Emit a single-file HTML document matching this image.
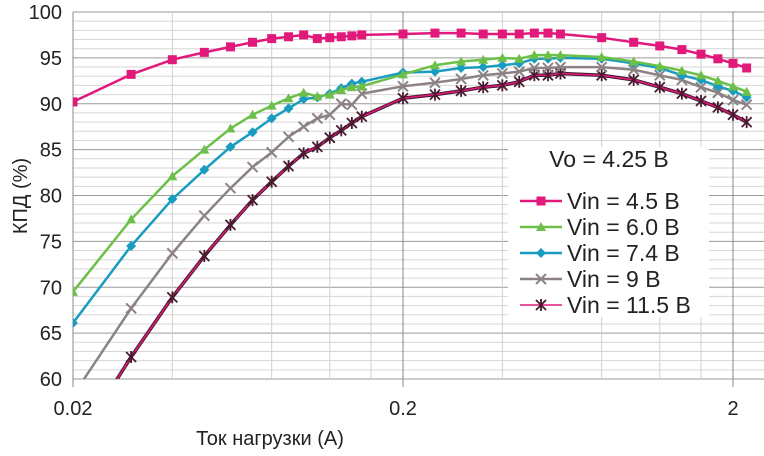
<!DOCTYPE html>
<html><head><meta charset="utf-8"><style>
body{margin:0;background:#fff;}
svg text{font-family:"Liberation Sans",sans-serif;fill:#222;}
</style></head><body>
<svg id="chart" width="764" height="451" xmlns="http://www.w3.org/2000/svg">
<defs><clipPath id="plotclip"><rect x="73" y="12" width="691" height="367"/></clipPath></defs>
<g id="grid"></g>
<g id="series" clip-path="url(#plotclip)"></g>
<g id="axes"></g>
<g id="legend"></g>
</svg>
<script>
const xValues=[0.02,0.03,0.04,0.05,0.06,0.07,0.08,0.09,0.1,0.11,0.12,0.13,0.14,0.15,0.2,0.25,0.3,0.35,0.4,0.45,0.5,0.55,0.6,0.8,1.0,1.2,1.4,1.6,1.8,2.0,2.2];
const vin45=[90.2,93.2,94.8,95.6,96.2,96.7,97.1,97.3,97.5,97.1,97.2,97.3,97.4,97.5,97.6,97.7,97.7,97.6,97.6,97.6,97.7,97.7,97.6,97.2,96.7,96.3,95.9,95.4,94.9,94.4,93.9];
const vin60=[69.5,77.4,82.1,85.0,87.3,88.8,89.8,90.6,91.2,90.8,91.0,91.5,91.8,91.9,93.2,94.2,94.6,94.8,95.0,94.9,95.3,95.3,95.3,95.1,94.6,94.1,93.6,93.1,92.5,91.9,91.3];
const vin74=[66.1,74.5,79.6,82.8,85.3,86.9,88.4,89.5,90.5,90.7,91.1,91.7,92.2,92.4,93.4,93.5,93.9,94.0,94.2,94.4,94.9,94.9,95.0,94.9,94.4,93.9,93.1,92.6,91.9,91.4,90.7];
const vin9=[58.2,67.7,73.7,77.8,80.8,83.1,84.7,86.4,87.5,88.4,88.8,90.0,89.9,91.1,91.9,92.3,92.7,93.1,93.3,93.5,93.9,93.9,94.0,94.0,93.7,93.1,92.6,91.8,91.2,90.4,89.9];
const vin115=[52.4,62.4,68.9,73.4,76.8,79.5,81.5,83.2,84.6,85.3,86.3,87.1,87.9,88.6,90.6,91.0,91.4,91.8,92.0,92.4,93.1,93.1,93.3,93.1,92.6,91.8,91.1,90.3,89.6,88.8,88.0];
const yTicks=[60,65,70,75,80,85,90,95,100];
const xTicks=[0.02,0.2,2];
const xTickLabels=["0.02","0.2","2"];
const legendLabels=["Vin = 4.5 B","Vin = 6.0 B","Vin = 7.4 B","Vin = 9 B","Vin = 11.5 B"];

const NS="http://www.w3.org/2000/svg";
const X0=73,X1=764,Y0=12,Y1=379,DEC=330;
function xs(v){return X0+Math.log10(v/0.02)*DEC;}
function ys(v){return Y1-(v-60)/40*(Y1-Y0);}
function mk(tag,attrs,parent){const e=document.createElementNS(NS,tag);for(const k in attrs)e.setAttribute(k,attrs[k]);parent.appendChild(e);return e;}
const grid=document.getElementById('grid'),axes=document.getElementById('axes'),ser=document.getElementById('series'),leg=document.getElementById('legend');
for(let v=60;v<=100;v++){
 const l=mk('line',{x1:X0,x2:X1,y1:ys(v),y2:ys(v),stroke:v%5?'#d6d6d6':'#9a9a9a','stroke-width':1},grid);
 
 
}
[0.02,0.2,2].forEach(d=>{for(let m=1;m<10;m++){const v=d*m; if(m===1||m%2===0){const x=xs(v); if(x>X1)continue;
 const l=mk('line',{x1:x,x2:x,y1:Y0,y2:Y1+(m===1?8:0),stroke:m===1?'#8a8a8a':'#d0d0d0','stroke-width':1},grid);
 
 }}});
yTicks.forEach(t=>{const tx=mk('text',{x:62,y:ys(t)+7,'text-anchor':'end','font-size':20},axes);tx.textContent=t;
 
 });
xTicks.forEach((t,i)=>{const tx=mk('text',{x:xs(t),y:415,'text-anchor':'middle','font-size':20},axes);tx.textContent=xTickLabels[i];
 
 });
const xt=mk('text',{x:270,y:445,'text-anchor':'middle','font-size':20},axes);xt.textContent='Ток нагрузки (А)';


const yt=mk('text',{x:0,y:0,'text-anchor':'middle','font-size':20,transform:'translate(27,196) rotate(-90)'},axes);yt.textContent='КПД (%)';



function marker(type,x,y,color,parent){
 let e;
 if(type==='sq')e=mk('rect',{x:x-4.5,y:y-4.5,width:9,height:9,fill:color},parent);
 else if(type==='tri')e=mk('polygon',{points:`${x},${y-5} ${x+5},${y+4} ${x-5},${y+4}`,fill:color},parent);
 else if(type==='dia')e=mk('polygon',{points:`${x},${y-5} ${x+5},${y} ${x},${y+5} ${x-5},${y}`,fill:color},parent);
 else if(type==='x')e=mk('path',{d:`M${x-5} ${y-5}L${x+5} ${y+5}M${x-5} ${y+5}L${x+5} ${y-5}`,stroke:color,'stroke-width':2},parent);
 else e=mk('path',{d:`M${x-5} ${y-5}L${x+5} ${y+5}M${x-5} ${y+5}L${x+5} ${y-5}M${x} ${y-6}L${x} ${y+6}`,stroke:color,'stroke-width':1.8},parent);
 return e;
}
const specs=[[vin45,'#e0197a','sq','series-vin-4.5'],[vin60,'#6cc04a','tri','series-vin-6.0'],[vin74,'#1a9cc0','dia','series-vin-7.4'],[vin9,'#8c8284','x','series-vin-9'],[vin115,'#e0197a','ast','series-vin-11.5']];
specs.slice().reverse().forEach(([data,color,type,name])=>{
 const g=mk('g',{},ser);
 
 
 const pts=data.map((v,i)=>xs(xValues[i]).toFixed(1)+','+ys(v).toFixed(1)).join(' ');
 if(type==='ast')mk('polyline',{points:pts,fill:'none',stroke:'#3a1a2a','stroke-width':3.5},g);
 const pl=mk('polyline',{points:pts,fill:'none',stroke:color,'stroke-width':type==='ast'?1.6:2.5},g);
 
 
 data.forEach((v,i)=>{const m=marker(type,xs(xValues[i]),ys(v),type==='ast'?'#4a1a30':color,g);
  
  });
});
const box=mk('rect',{x:508,y:147,width:201,height:170,fill:'#fff'},leg);


const vo=mk('text',{x:609,y:167,'text-anchor':'middle','font-size':23},leg);vo.textContent='Vo = 4.25 B';


specs.forEach(([d,color,type,name],i)=>{
 const y=201+i*26;
 const g=mk('g',{},leg);
 
 
 mk('line',{x1:520,x2:562,y1:y,y2:y,stroke:color,'stroke-width':type==='ast'?1.6:2.5},g);
 marker(type,541,y,type==='ast'?'#4a1a30':color,g);
 const t=mk('text',{x:567,y:y+8,'font-size':23},g);t.textContent=legendLabels[i];
});
</script>
</body></html>
